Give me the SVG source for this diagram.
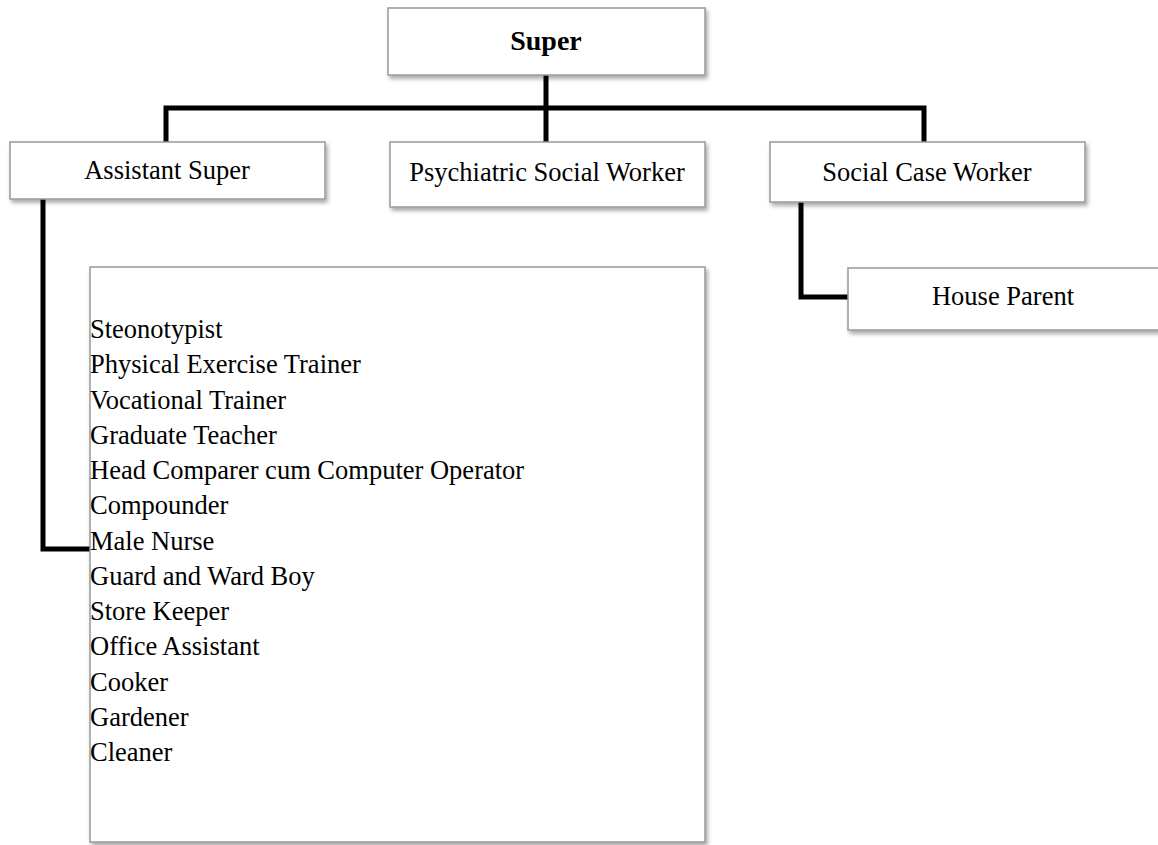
<svg xmlns="http://www.w3.org/2000/svg" width="1158" height="845" viewBox="0 0 1158 845">
<defs>
<filter id="sh" x="-5%" y="-10%" width="115%" height="130%">
<feDropShadow dx="2" dy="3" stdDeviation="2" flood-color="#000" flood-opacity="0.35"/>
</filter>
</defs>
<style>
.box{fill:#fff;stroke:#999;stroke-width:1.5;filter:url(#sh)}
.t{font-family:"Liberation Serif","Times New Roman",serif;font-size:26.5px;fill:#000}
.c{text-anchor:middle}
.b{font-weight:bold;font-size:28px}
.conn{fill:none;stroke:#000;stroke-width:5;stroke-linejoin:miter}
</style>
<rect width="1158" height="845" fill="#fff"/>
<g id="connectors">
<path class="conn" d="M546 75 V108"/>
<path class="conn" d="M166 142 V108 H924 V142"/>
<path class="conn" d="M546 108 V142"/>
<path class="conn" d="M43 199 V549 H90"/>
<path class="conn" d="M801 202 V297 H848"/>
</g>
<g id="super">
<rect class="box" x="388" y="8" width="317" height="67"/>
<text class="t c b" x="546" y="50">Super</text>
</g>
<g id="assistant-super">
<rect class="box" x="10" y="142" width="315" height="57"/>
<text class="t c" x="167" y="179">Assistant Super</text>
</g>
<g id="psychiatric-social-worker">
<rect class="box" x="390" y="142" width="315" height="65"/>
<text class="t c" x="547" y="181">Psychiatric Social Worker</text>
</g>
<g id="social-case-worker">
<rect class="box" x="770" y="142" width="315" height="60"/>
<text class="t c" x="927" y="181">Social Case Worker</text>
</g>
<g id="house-parent">
<rect class="box" x="848" y="268" width="320" height="62"/>
<text class="t c" x="1003" y="305">House Parent</text>
</g>
<g id="staff-list">
<rect class="box" x="90" y="267" width="615" height="575"/>
<text class="t" x="90" y="338">Steonotypist</text>
<text class="t" x="90" y="373.25">Physical Exercise Trainer</text>
<text class="t" x="90" y="408.5">Vocational Trainer</text>
<text class="t" x="90" y="443.75">Graduate Teacher</text>
<text class="t" x="90" y="479">Head Comparer cum Computer Operator</text>
<text class="t" x="90" y="514.25">Compounder</text>
<text class="t" x="90" y="549.5">Male Nurse</text>
<text class="t" x="90" y="584.75">Guard and Ward Boy</text>
<text class="t" x="90" y="620">Store Keeper</text>
<text class="t" x="90" y="655.25">Office Assistant</text>
<text class="t" x="90" y="690.5">Cooker</text>
<text class="t" x="90" y="725.75">Gardener</text>
<text class="t" x="90" y="761">Cleaner</text>
</g>
</svg>
